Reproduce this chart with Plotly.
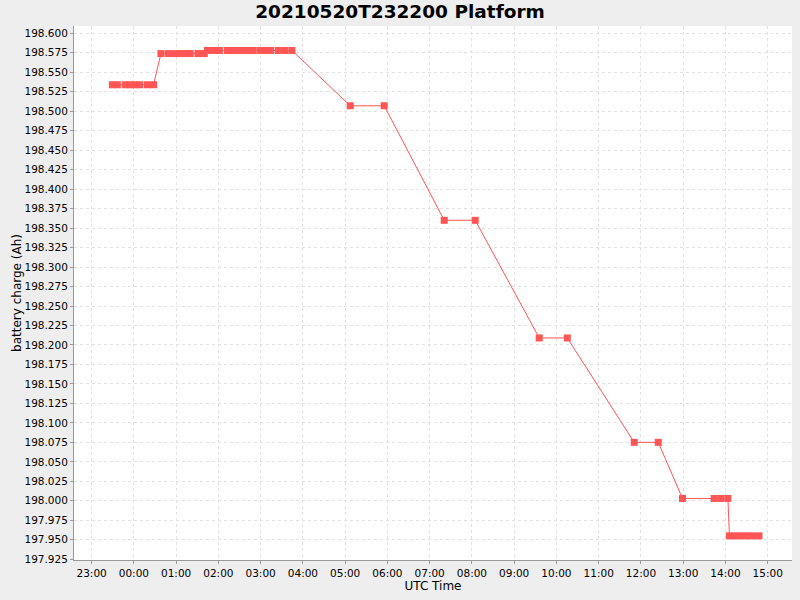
import plotly.graph_objects as go

# timestamps (UTC) and battery charge readings
times = [
    "2021-05-20 23:29:30", "2021-05-20 23:36:36", "2021-05-20 23:48:00", "2021-05-20 23:55:00",
    "2021-05-21 00:01:30", "2021-05-21 00:08:00", "2021-05-21 00:19:00", "2021-05-21 00:28:00",
    "2021-05-21 00:38:24", "2021-05-21 00:49:00", "2021-05-21 00:58:00", "2021-05-21 01:07:00",
    "2021-05-21 01:15:00", "2021-05-21 01:20:00", "2021-05-21 01:31:00", "2021-05-21 01:40:00",
    "2021-05-21 01:44:24", "2021-05-21 01:52:00", "2021-05-21 02:01:30", "2021-05-21 02:13:00",
    "2021-05-21 02:22:00", "2021-05-21 02:31:00", "2021-05-21 02:40:00", "2021-05-21 02:49:00",
    "2021-05-21 02:59:00", "2021-05-21 03:08:00", "2021-05-21 03:14:00", "2021-05-21 03:25:00",
    "2021-05-21 03:34:30", "2021-05-21 03:44:24",
    "2021-05-21 05:07:12", "2021-05-21 05:55:30",
    "2021-05-21 07:20:42", "2021-05-21 08:04:42",
    "2021-05-21 09:35:36", "2021-05-21 10:15:24",
    "2021-05-21 11:50:30", "2021-05-21 12:24:36",
    "2021-05-21 12:59:00", "2021-05-21 13:44:00", "2021-05-21 13:53:36", "2021-05-21 14:03:30",
    "2021-05-21 14:05:42", "2021-05-21 14:13:30", "2021-05-21 14:22:00", "2021-05-21 14:30:30",
    "2021-05-21 14:39:00", "2021-05-21 14:47:36",
]
charge = [
    198.534, 198.534, 198.534, 198.534,
    198.534, 198.534, 198.534, 198.534,
    198.574, 198.574, 198.574, 198.574,
    198.574, 198.574, 198.574, 198.574,
    198.578, 198.578, 198.578, 198.578,
    198.578, 198.578, 198.578, 198.578,
    198.578, 198.578, 198.578, 198.578,
    198.578, 198.578,
    198.507, 198.507,
    198.360, 198.360,
    198.209, 198.209,
    198.075, 198.075,
    198.003, 198.003, 198.003, 198.003,
    197.955, 197.955, 197.955, 197.955,
    197.955, 197.955,
]

font = "DejaVu Sans, Liberation Sans, sans-serif"

fig = go.Figure(
    go.Scatter(
        x=times,
        y=charge,
        mode="lines+markers",
        line=dict(color="#FF5555", width=1),
        marker=dict(symbol="square", size=7, color="#FF5555"),
    )
)

fig.update_layout(
    width=800,
    height=600,
    title=dict(text="<b>20210520T232200 Platform</b>", x=0.5, xanchor="center",
               y=0.98, yanchor="middle", font=dict(size=18.5, color="black", family=font)),
    paper_bgcolor="#EEEEEE",
    plot_bgcolor="white",
    margin=dict(l=74, r=8, t=26, b=40),
    showlegend=False,
    font=dict(family=font, color="black"),
)

fig.update_xaxes(
    range=["2021-05-20 22:35:00", "2021-05-21 15:34:30"],
    dtick=3600000,
    tick0="2021-05-20 23:00:00",
    tickformat="%H:%M",
    tickfont=dict(size=10.5),
    ticks="outside", ticklen=3, tickcolor="#999999",
    showgrid=True, gridcolor="#E2E2E2", griddash="3px,3px", gridwidth=1,
    showline=True, linecolor="#999999", linewidth=1, mirror=False,
    zeroline=False,
    title=dict(text="UTC Time", font=dict(size=12), standoff=4),
)

fig.update_yaxes(
    range=[197.924, 198.6094],
    dtick=0.025,
    tick0=197.925,
    tickformat=".3f",
    tickfont=dict(size=10.5),
    ticks="outside", ticklen=3, tickcolor="#999999",
    showgrid=True, gridcolor="#E2E2E2", griddash="3px,3px", gridwidth=1,
    showline=True, linecolor="#999999", linewidth=1,
    zeroline=False,
    title=dict(text="battery charge (Ah)", font=dict(size=12), standoff=0),
)

fig.write_html(
    "out.html",
    config={"displayModeBar": False},
    post_script="document.body.style.margin='0';document.body.style.backgroundColor='#EEEEEE';",
)
